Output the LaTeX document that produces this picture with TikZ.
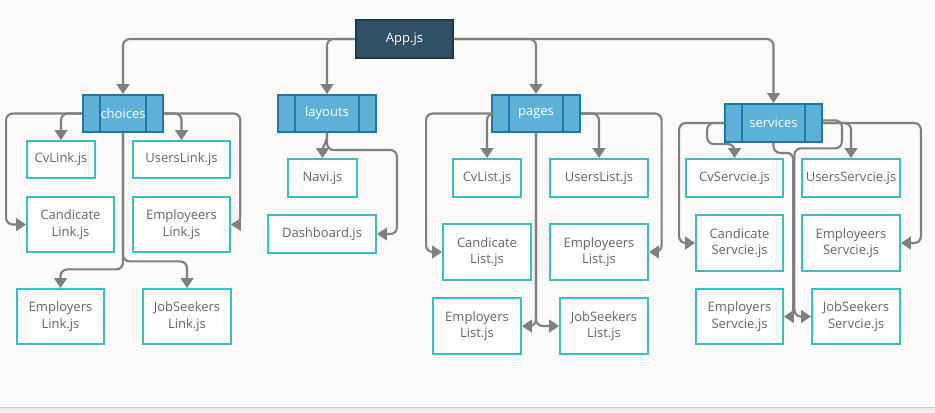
\documentclass[tikz,border=0pt]{standalone}
\usepackage{fontspec}
\setmainfont{Open Sans}
\usetikzlibrary{arrows.meta,calc}
\definecolor{bgc}{HTML}{FCFBF9}
\definecolor{appfill}{HTML}{2F5165}
\definecolor{appdraw}{HTML}{1D3A4B}
\definecolor{bluefill}{HTML}{5DB1D7}
\definecolor{bluedraw}{HTML}{1E78A8}
\definecolor{tealc}{HTML}{3DBDBD}
\definecolor{txtc}{HTML}{666666}
\definecolor{linec}{HTML}{808080}
\begin{document}
\begin{tikzpicture}[x=0.75pt,y=-0.75pt,
  wh/.style 2 args={minimum width=#1*0.75pt,minimum height=#2*0.75pt},
  leaf/.style={draw=tealc,line width=1.4pt,fill=white,text=txtc,align=center,
    font=\fontsize{9.75}{12.5}\selectfont,inner sep=0pt},
  group/.style={draw=bluedraw,line width=1.4pt,fill=bluefill,text=white,inner sep=0pt,
    font=\fontsize{9.75}{12}\selectfont,
    path picture={\draw[bluedraw,line width=1.3pt]
      ([xshift=13pt]path picture bounding box.north west) -- ([xshift=13pt]path picture bounding box.south west)
      ([xshift=-13pt]path picture bounding box.north east) -- ([xshift=-13pt]path picture bounding box.south east);}},
  root/.style={draw=appdraw,line width=1.2pt,fill=appfill,text=white,inner sep=0pt,
    font=\fontsize{9.75}{12}\selectfont},
  link/.style={draw=linec,line width=1.6pt,rounded corners=5pt,-{Triangle[width=9.5pt,length=7.5pt]}}
]
\useasboundingbox (0,0) rectangle (935,412);
\fill[bgc] (0,0) rectangle (935,407);
\fill[black!7] (0,407) rectangle (935,412);
\draw[black!20,line width=0.8pt] (0,407.5) -- (935,407.5);

% root
\node[root,wh={97}{38}] (app) at (404.5,39) {App.js};

% groups
\node[group,wh={80}{37}] (ch) at (123,113.5) {choices};
\node[group,wh={98}{37}] (lay) at (327,113.5) {layouts};
\node[group,wh={88}{37}] (pg) at (536,113.5) {pages};
\node[group,wh={97}{38}] (sv) at (773.5,123) {services};

% choices leaves
\node[leaf,wh={68}{37}] (cvl) at (61,159.5) {CvLink.js};
\node[leaf,wh={97}{37}] (usl) at (181.5,159.5) {UsersLink.js};
\node[leaf,wh={87}{55}] (candl) at (70.5,224.5) {Candicate\\Link.js};
\node[leaf,wh={97}{55}] (empel) at (181.5,224.5) {Employeers\\Link.js};
\node[leaf,wh={87}{55}] (emprl) at (60.5,316.5) {Employers\\Link.js};
\node[leaf,wh={88}{55}] (jobl) at (187,316.5) {JobSeekers\\Link.js};

% layouts leaves
\node[leaf,wh={69}{38}] (navi) at (322.5,178) {Navi.js};
\node[leaf,wh={108}{38}] (dash) at (322,234) {Dashboard.js};

% pages leaves
\node[leaf,wh={68}{38}] (cvli) at (487,178) {CvList.js};
\node[leaf,wh={98}{38}] (usli) at (599,178) {UsersList.js};
\node[leaf,wh={88}{56}] (candli) at (487,252) {Candicate\\List.js};
\node[leaf,wh={98}{56}] (empeli) at (599,252) {Employeers\\List.js};
\node[leaf,wh={88}{56}] (emprli) at (477,326) {Employers\\List.js};
\node[leaf,wh={88}{56}] (jobli) at (604,326) {JobSeekers\\List.js};

% services leaves
\node[leaf,wh={97}{38}] (cvs) at (734.5,178) {CvServcie.js};
\node[leaf,wh={98}{38}] (uss) at (851,178) {UsersServcie.js};
\node[leaf,wh={87}{56}] (cands) at (739.5,243) {Candicate\\Servcie.js};
\node[leaf,wh={98}{56}] (empes) at (851,243) {Employeers\\Servcie.js};
\node[leaf,wh={87}{55}] (emprs) at (739.5,316.5) {Employers\\Servcie.js};
\node[leaf,wh={88}{55}] (jobs) at (856,316.5) {JobSeekers\\Servcie.js};

% root connectors
\draw[link] (app.west) -| (ch.north);
\draw[link] (app.west) -| (lay.north);
\draw[link] (app.east) -| (pg.north);
\draw[link] (app.east) -| (sv.north);

% choices connectors
\draw[link] (ch.west) -| ([xshift=-15pt]candl.west) -- (candl.west);
\draw[link] (ch.west) -| (cvl.north);
\draw[link] (ch.east) -| (usl.north);
\draw[link] (ch.east) -| ([xshift=7pt]empel.east) -- (empel.east);
\draw[link] (ch.south) |- ([yshift=14pt]emprl.north) -- (emprl.north);
\draw[link] (ch.south) |- ([yshift=20pt]jobl.north) -- (jobl.north);

% layouts connectors
\draw[link] (lay.south) to[out=-90,in=90] (navi.north);
\draw[link] (lay.south) |- ([xshift=15pt,yshift=63pt]dash.east) |- (dash.east);

% pages connectors
\draw[link] (pg.west) -| ([xshift=-12pt]candli.west) -- (candli.west);
\draw[link] (pg.west) -| (cvli.north);
\draw[link] (pg.east) -| (usli.north);
\draw[link] (pg.east) -| ([xshift=9.5pt]empeli.east) -- (empeli.east);
\draw[link] (pg.south) |- (emprli.east);
\draw[link] (pg.south) |- (jobli.west);

% services connectors
\draw[link] (sv.west) -| ([xshift=-12pt]cands.west) -- (cands.west);
\draw[link] (sv.west) -| ([xshift=-20.5pt,yshift=10.5pt]cvs.north) -| (cvs.north);
\draw[link] (sv.east) -| (uss.north);
\draw[link] (sv.east) -| ([xshift=15pt]empes.east) -- (empes.east);
\draw[link] (sv.south) -- ++(0,10) -| ([xshift=7pt]emprs.east) -- (emprs.east);
\draw[link] ([yshift=2pt]sv.east) -| ++(19,28) -| ([xshift=-12.5pt]jobs.west) -- (jobs.west);
\end{tikzpicture}
\end{document}
